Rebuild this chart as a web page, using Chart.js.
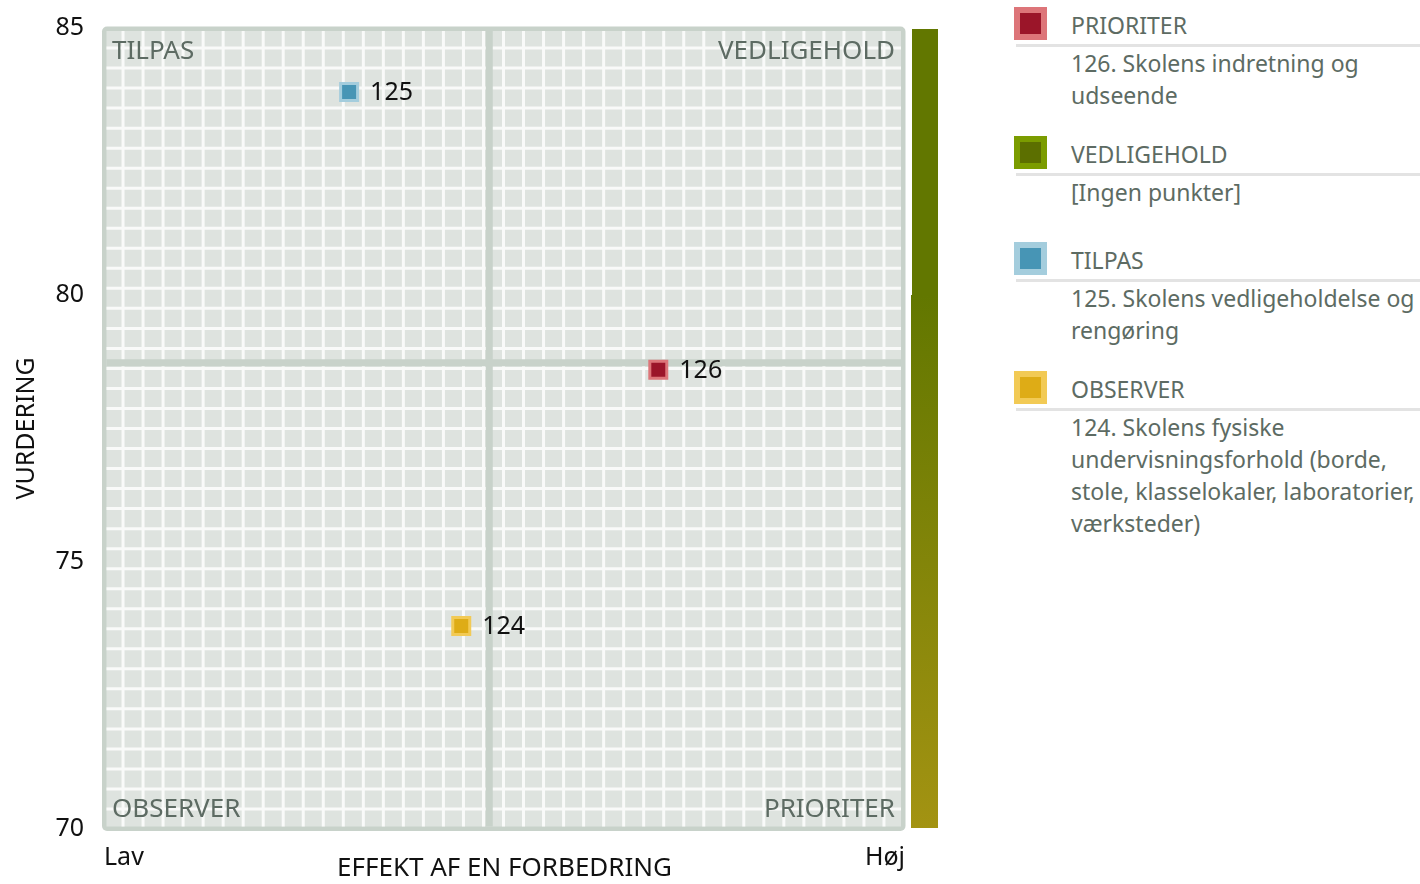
<!DOCTYPE html>
<html>
<head>
<meta charset="utf-8">
<script src="https://cdn.jsdelivr.net/npm/chart.js@4.4.1/dist/chart.umd.min.js"></script>
<style>
html, body { margin: 0; padding: 0; background: #fff; }
body { width: 1420px; height: 884px; position: relative; overflow: hidden; font-family: 'Noto Sans', sans-serif; }
#wrap { position: absolute; left: 0; top: 0; width: 960px; height: 884px; }
#legend { position: absolute; left: 1014px; top: 7px; width: 420px; }
.grp { position: relative; }
.sw { position: absolute; left: 0; top: 0; width: 21px; height: 21px; border: 6px solid; }
.ttl { margin-left: 57px; height: 37px; line-height: 37px; font-size: 23px; color: #5d6b63; }
.rule { margin-left: 2px; height: 3px; background: #e3e3e3; }
.desc { margin-left: 57px; width: 352px; font-size: 23px; line-height: 32px; color: #5d6b63; min-height: 41px; padding-bottom: 25px; }
</style>
</head>
<body>
<div id="wrap"><canvas id="chart" width="960" height="884"></canvas></div>
<div id="legend"></div>
<script>
// --- data ---
const quadrants = ['PRIORITER', 'VEDLIGEHOLD', 'TILPAS', 'OBSERVER'];
const itemIds = [126, 125, 124];
const itemNames = [
  'Skolens indretning og udseende',
  'Skolens vedligeholdelse og rengøring',
  'Skolens fysiske undervisningsforhold (borde, stole, klasselokaler, laboratorier, værksteder)'
];
const itemQuadrant = ['PRIORITER', 'TILPAS', 'OBSERVER'];
const effektValues = [69.2, 30.6, 44.6];
const vurderingValues = [78.6, 83.8, 73.8];
const yTicks = [70, 75, 80, 85];
const xTickLabels = ['Lav', 'Høj'];
const midEffekt = 48.1;
const midVurdering = 78.73;
const emptyText = '[Ingen punkter]';

// --- styles ---
const quadFill = { PRIORITER: '#9b1529', VEDLIGEHOLD: '#5c6f00', TILPAS: '#4795b5', OBSERVER: '#deac16' };
const quadEdge = { PRIORITER: '#dd7579', VEDLIGEHOLD: '#7b9c00', TILPAS: '#a4cddd', OBSERVER: '#f2ca55' };
const frameColor = '#c8d2ca';
const cellColor = '#dee3df';
const textGrey = '#5d6b63';

Chart.defaults.font.family = "'Noto Sans', sans-serif";

// baggrund: ramme, gitter, midterlinjer og farveskala
const quadrantBackground = {
  id: 'quadrantBackground',
  beforeDraw(chart) {
    const { ctx, chartArea: a, scales: { x, y } } = chart;
    ctx.save();

    // farveskala til højre
    const barL = a.right + 7, barR = a.right + 33;
    const split = y.getPixelForValue(80);
    ctx.fillStyle = '#627700';
    ctx.fillRect(barL, a.top + 1, barR - barL, split - a.top - 1);
    const g = ctx.createLinearGradient(0, split, 0, a.bottom);
    g.addColorStop(0, '#627700');
    g.addColorStop(1, '#a39312');
    ctx.fillStyle = g;
    ctx.fillRect(barL - 1, split, barR - barL + 1, a.bottom - 1 - split);

    // ramme
    const L = a.left - 2, T = a.top - 1.5, R = a.right + 0.5, B = a.bottom + 2;
    ctx.fillStyle = frameColor;
    ctx.beginPath();
    ctx.roundRect(L, T, R - L, B - T, 5);
    ctx.fill();
    const bw = 4.5;
    ctx.fillStyle = cellColor;
    ctx.fillRect(L + bw, T + bw, R - L - 2 * bw, B - T - 2 * bw);

    ctx.beginPath();
    ctx.rect(L + bw, T + bw, R - L - 2 * bw, B - T - 2 * bw);
    ctx.clip();

    // hvidt gitter
    ctx.strokeStyle = '#f9faf9';
    ctx.lineWidth = 3;
    const step = a.width / 40;
    ctx.beginPath();
    for (let k = 0; k <= 40; k++) {
      const px = a.left - 1 + k * step;
      ctx.moveTo(px, T); ctx.lineTo(px, B);
      const py = a.top + k * step;
      ctx.moveTo(L, py); ctx.lineTo(R, py);
    }
    ctx.stroke();

    // midterlinjer
    ctx.strokeStyle = frameColor;
    ctx.lineWidth = 7;
    const mx = x.getPixelForValue(midEffekt);
    const my = y.getPixelForValue(midVurdering);
    ctx.beginPath();
    ctx.moveTo(mx, T); ctx.lineTo(mx, B);
    ctx.moveTo(L, my); ctx.lineTo(R, my);
    ctx.stroke();
    ctx.restore();
  }
};

// tekster: kvadrantnavne og punktnumre
const quadrantLabels = {
  id: 'quadrantLabels',
  afterDatasetsDraw(chart) {
    const { ctx, chartArea: a } = chart;
    ctx.save();
    ctx.font = "26px 'Noto Sans'";
    ctx.fillStyle = textGrey;
    ctx.textBaseline = 'alphabetic';
    ctx.textAlign = 'left';
    ctx.fillText(quadrants[2], a.left + 8, a.top + 31);
    ctx.fillText(quadrants[3], a.left + 8, a.bottom - 12);
    ctx.textAlign = 'right';
    ctx.fillText(quadrants[1], a.right - 10, a.top + 31);
    ctx.fillText(quadrants[0], a.right - 10, a.bottom - 12);

    ctx.font = "25px 'Noto Sans'";
    ctx.fillStyle = '#111';
    ctx.textAlign = 'left';
    ctx.textBaseline = 'middle';
    chart.data.datasets.forEach((ds, i) => {
      const pt = chart.getDatasetMeta(i).data[0];
      ctx.fillText(ds.label, pt.x + 21, pt.y + 1);
    });
    ctx.restore();
  }
};

const datasets = itemIds.map((id, i) => ({
  label: String(id),
  data: [{ x: effektValues[i], y: vurderingValues[i] }],
  pointStyle: 'rect',
  pointRadius: 12,
  pointHoverRadius: 12,
  backgroundColor: quadFill[itemQuadrant[i]],
  borderColor: quadEdge[itemQuadrant[i]],
  borderWidth: 3
}));

new Chart(document.getElementById('chart'), {
  type: 'scatter',
  data: { datasets },
  options: {
    responsive: false,
    animation: false,
    layout: { padding: { top: 28, right: 55, left: 0, bottom: 0 } },
    plugins: { legend: { display: false }, tooltip: { enabled: false } },
    scales: {
      x: {
        type: 'linear', min: 0, max: 100,
        grid: { display: false, drawTicks: false },
        border: { display: false },
        afterBuildTicks: s => { s.ticks = [{ value: 0 }, { value: 100 }]; },
        ticks: {
          align: 'inner', maxRotation: 0, padding: 14, color: '#111',
          font: { size: 25 },
          callback: (v, i) => xTickLabels[i]
        },
        title: { display: true, text: 'EFFEKT AF EN FORBEDRING', color: '#111', font: { size: 26 }, padding: 0 },
        afterFit: s => { s.height = 55; s.paddingLeft = 0; s.paddingRight = 0; }
      },
      y: {
        type: 'linear', min: 70, max: 85,
        grid: { display: false, drawTicks: false },
        border: { display: false },
        afterBuildTicks: s => { s.ticks = yTicks.map(v => ({ value: v })); },
        ticks: { padding: 20, color: '#111', font: { size: 25 } },
        title: { display: true, text: 'VURDERING', color: '#111', font: { size: 25 }, padding: { top: 12, bottom: 0 } },
        afterFit: s => { s.width = 104; s.paddingTop = 0; s.paddingBottom = 0; }
      }
    }
  },
  plugins: [quadrantBackground, quadrantLabels]
});

// --- legend ---
const legend = document.getElementById('legend');
quadrants.forEach(q => {
  const items = itemIds.filter((id, i) => itemQuadrant[i] === q);
  const lines = items.length
    ? items.map(id => id + '. ' + itemNames[itemIds.indexOf(id)]).join('<br>')
    : emptyText;
  const grp = document.createElement('div');
  grp.className = 'grp';
  grp.innerHTML =
    `<div class="sw" style="background:${quadFill[q]};border-color:${quadEdge[q]}"></div>` +
    `<div class="ttl">${q}</div><div class="rule"></div><div class="desc">${lines}</div>`;
  legend.appendChild(grp);
});
</script>
</body>
</html>
